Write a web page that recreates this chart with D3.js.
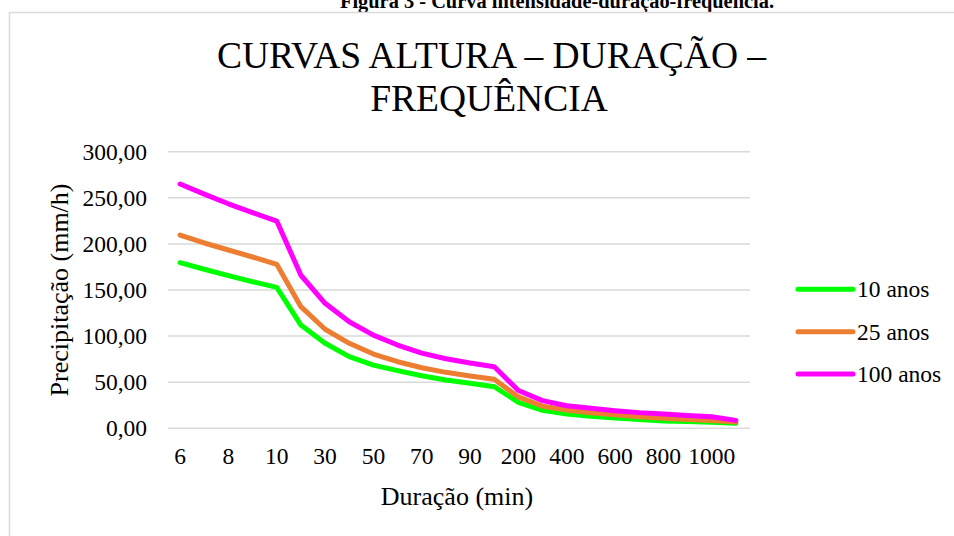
<!DOCTYPE html>
<html>
<head>
<meta charset="utf-8">
<script src="https://cdn.jsdelivr.net/npm/d3@7"></script>
<style>
  body { margin: 0; background: #fff; }
  svg { display: block; font-family: "Liberation Serif", "Times New Roman", serif; }
</style>
</head>
<body>
<svg id="chart"></svg>
<script>
// durations (min) on the category axis
const durations = ['6', '7', '8', '9', '10', '20', '30', '40', '50', '60', '70', '80', '90', '100',
  '200', '300', '400', '500', '600', '700', '800', '900', '1000', '1440'];
const seriesNames = ['10 anos', '25 anos', '100 anos'];
const seriesColors = ['#00ff00', '#ed7d31', '#ff00ff'];
const tr10 = [179.6, 172.5, 165.5, 159.0, 152.9, 112.0, 92.2, 77.7, 68.5, 62.5, 57.0, 52.4, 48.8, 45.1,
  28.2, 19.5, 15.5, 13.0, 11.3, 9.5, 8.0, 7.3, 6.5, 5.4];
const tr25 = [209.6, 201.0, 193.4, 185.8, 177.9, 131.9, 107.4, 92.2, 80.5, 72.2, 65.7, 60.7, 56.7, 53.1,
  34.0, 24.0, 19.8, 16.9, 14.8, 12.5, 10.8, 9.5, 8.5, 6.8];
const tr100 = [265.0, 254.0, 243.5, 234.0, 224.8, 166.0, 135.6, 115.6, 101.0, 90.3, 81.5, 75.5, 70.8, 66.8,
  41.0, 30.0, 24.5, 21.7, 19.1, 17.0, 15.5, 14.0, 12.6, 8.6];
const yTicks = [0, 50, 100, 150, 200, 250, 300];

const width = 954, height = 536;
const plot = { left: 168, right: 750, top: 151.7, bottom: 428.3 };

const svg = d3.select('#chart').attr('width', width).attr('height', height);

// caption above the chart (cut at the top, as in the page it came from)
svg.append('text')
  .attr('x', 557).attr('y', 8)
  .attr('text-anchor', 'middle')
  .attr('font-size', 20.4).attr('font-weight', 'bold')
  .text('Figura 3 - Curva intensidade-duração-frequência.');

// chart border
svg.append('rect')
  .attr('x', 9.5).attr('y', 12.5)
  .attr('width', 1000).attr('height', 600)
  .attr('fill', '#fff').attr('stroke', '#d9d9d9').attr('stroke-width', 1.5);

// title
const title = svg.append('text').attr('text-anchor', 'middle').attr('font-size', 37.5).attr('fill', '#000');
title.append('tspan').attr('x', 491.5).attr('y', 68).text('CURVAS ALTURA – DURAÇÃO –');
title.append('tspan').attr('x', 489).attr('y', 111).text('FREQUÊNCIA');

const x = d3.scaleBand().domain(durations).range([plot.left, 748]);
const xc = d => x(d) + x.bandwidth() / 2;
const y = d3.scaleLinear().domain([0, 300]).range([plot.bottom, plot.top]);

const ptBR = d3.formatLocale({ decimal: ',', thousands: '.', grouping: [3], currency: ['R$', ''] });
const fmt = ptBR.format('.2f');

// gridlines
svg.append('g').selectAll('line')
  .data(yTicks)
  .enter().append('line')
  .attr('x1', plot.left).attr('x2', plot.right)
  .attr('y1', d => y(d)).attr('y2', d => y(d))
  .attr('stroke', '#d9d9d9').attr('stroke-width', 1.5);

// y axis labels
const yAxis = svg.append('g')
  .attr('transform', `translate(${plot.left},0)`)
  .call(d3.axisLeft(y).tickValues(yTicks).tickFormat(fmt).tickSize(0).tickPadding(21));
yAxis.select('.domain').remove();
yAxis.selectAll('text').attr('font-size', 23.5).attr('font-family', 'Liberation Serif').attr('fill', '#000');

// x axis labels (every second category)
const xAxis = svg.append('g')
  .attr('transform', `translate(0,${plot.bottom})`)
  .call(d3.axisBottom(x).tickValues(durations.filter((d, i) => i % 2 === 0)).tickSize(0).tickPadding(19));
xAxis.select('.domain').remove();
xAxis.selectAll('text').attr('font-size', 23.5).attr('font-family', 'Liberation Serif').attr('fill', '#000');

// axis titles
svg.append('text')
  .attr('x', 457).attr('y', 505)
  .attr('text-anchor', 'middle').attr('font-size', 26)
  .text('Duração (min)');
svg.append('text')
  .attr('transform', 'translate(68,290) rotate(-90)')
  .attr('text-anchor', 'middle').attr('font-size', 26)
  .text('Precipitação (mm/h)');

// lines
const series = [tr10, tr25, tr100];
const line = d3.line()
  .x((d, i) => xc(durations[i]))
  .y(d => y(d));

svg.append('g').selectAll('path')
  .data(series)
  .enter().append('path')
  .attr('d', line)
  .attr('fill', 'none')
  .attr('stroke', (d, i) => seriesColors[i])
  .attr('stroke-width', 5)
  .attr('stroke-linejoin', 'round')
  .attr('stroke-linecap', 'round');

// legend
const legend = svg.append('g').selectAll('g')
  .data(seriesNames)
  .enter().append('g')
  .attr('transform', (d, i) => `translate(798, ${289.3 + i * 42.4})`);
legend.append('line')
  .attr('x1', 0).attr('x2', 55)
  .attr('stroke', (d, i) => seriesColors[i])
  .attr('stroke-width', 5).attr('stroke-linecap', 'round');
legend.append('text')
  .attr('x', 59).attr('y', 8)
  .attr('font-size', 23.5)
  .text(d => d);
</script>
</body>
</html>
